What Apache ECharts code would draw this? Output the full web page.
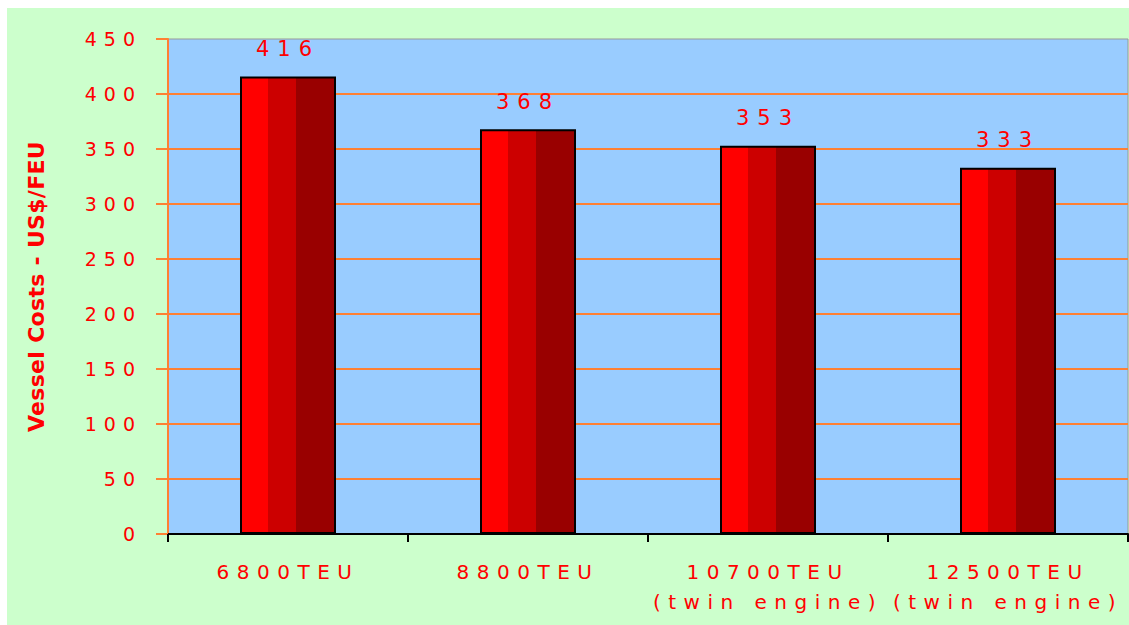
<!DOCTYPE html>
<html>
<head>
<meta charset="utf-8">
<script src="https://cdn.jsdelivr.net/npm/echarts@6/dist/echarts.min.js"></script>
<style>
  html, body { margin: 0; padding: 0; background: #ffffff; }
  #chart { position: absolute; left: 7px; top: 8px; width: 1122px; height: 617px; }
  #chart svg text[style*="19px"] { letter-spacing: 7px; }
  #chart svg text[style*="20px"] { letter-spacing: 7.5px; }
  #chart svg text[style*="21px"] { letter-spacing: 8px; }
  #chart svg text[style*="22px"] { letter-spacing: 0.3px; }
</style>
</head>
<body>
<div id="chart"></div>
<script>
const categories = ['6800TEU', '8800TEU', '10700TEU\n(twin engine)', '12500TEU\n(twin engine)'];
const vesselCosts = [416, 368, 353, 333];
const yTicks = { min: 0, max: 450, interval: 50 };
const yTitle = 'Vessel Costs - US$/FEU';

const chart = echarts.init(document.getElementById('chart'), null, { renderer: 'svg' });
const barGradient = {
  type: 'linear', x: 0, y: 0, x2: 1, y2: 0,
  colorStops: [
    { offset: 0, color: '#FF0000' }, { offset: 0.29, color: '#FF0000' },
    { offset: 0.29, color: '#CC0000' }, { offset: 0.58, color: '#CC0000' },
    { offset: 0.58, color: '#990000' }, { offset: 1, color: '#990000' }
  ]
};
chart.setOption({
  backgroundColor: '#CCFFCC',
  animation: false,
  grid: {
    left: 161, right: 1, top: 31, bottom: 91,
    show: true, backgroundColor: '#99CCFF', borderColor: '#999999', borderWidth: 1
  },
  xAxis: {
    type: 'category',
    data: categories,
    axisLine: { show: true, lineStyle: { color: '#000000', width: 2 } },
    axisTick: { show: true, length: 8, lineStyle: { color: '#000000', width: 2 } },
    axisLabel: {
      interval: 0, color: '#FF0000', fontFamily: 'DejaVu Sans', fontSize: 20,
      lineHeight: 30, margin: 23
    },
    splitLine: { show: false }
  },
  yAxis: {
    type: 'value',
    min: yTicks.min, max: yTicks.max, interval: yTicks.interval,
    name: yTitle,
    nameLocation: 'middle',
    nameGap: 121,
    nameTextStyle: { color: '#FF0000', fontFamily: 'DejaVu Sans', fontWeight: 'bold', fontSize: 22 },
    axisLine: { show: true, lineStyle: { color: '#FF8033', width: 2 } },
    axisTick: { show: true, length: 12, lineStyle: { color: '#FF8033', width: 2 } },
    axisLabel: { color: '#FF0000', fontFamily: 'DejaVu Sans', fontSize: 19, margin: 26 },
    splitLine: { show: true, showMaxLine: false, lineStyle: { color: '#FF8033', width: 2 } }
  },
  series: [{
    type: 'bar',
    data: vesselCosts,
    barWidth: '40%',
    itemStyle: { color: barGradient, borderColor: '#000000', borderWidth: 2 },
    label: {
      show: true, position: 'top', distance: 17,
      color: '#FF0000', fontFamily: 'DejaVu Sans', fontSize: 21
    }
  }]
});
</script>
</body>
</html>
